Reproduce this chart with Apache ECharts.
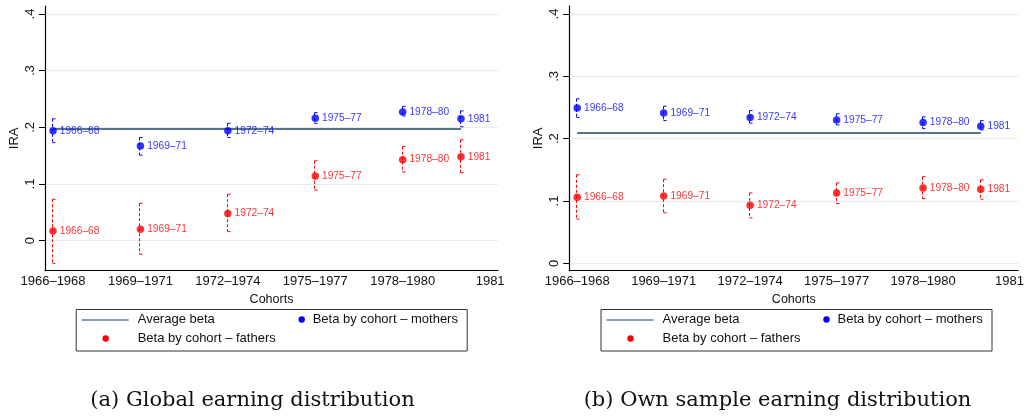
<!DOCTYPE html>
<html>
<head>
<meta charset="utf-8">
<script src="https://cdn.jsdelivr.net/npm/echarts@6/dist/echarts.min.js"></script>
<style>
html,body{margin:0;padding:0;background:#fff;}
#chart{width:1027px;height:416px;}
</style>
</head>
<body>
<div id="chart"></div>
<script>
// ---- data ----
const cohortX = [1967, 1970, 1973, 1976, 1979, 1981];
const pointLabels = ['1966–68', '1969–71', '1972–74', '1975–77', '1978–80', '1981'];
const xTickValues = [1967, 1970, 1973, 1976, 1979, 1982];
const xTickLabels = ['1966–1968', '1969–1971', '1972–1974', '1975–1977', '1978–1980', '1981'];
const yTickValues = [0, 0.1, 0.2, 0.3, 0.4];
const yTickLabels = ['0', '.1', '.2', '.3', '.4'];
const avgLineX = [1967, 1981];

// Panel (a) Global earning distribution
const avgA = 0.197;
const mothersA = [0.194, 0.167, 0.194, 0.216, 0.227, 0.215];
const mothersLoA = [0.173, 0.151, 0.182, 0.207, 0.220, 0.201];
const mothersHiA = [0.215, 0.182, 0.207, 0.226, 0.237, 0.229];
const fathersA = [0.017, 0.020, 0.048, 0.114, 0.143, 0.148];
const fathersLoA = [-0.040, -0.024, 0.016, 0.089, 0.121, 0.120];
const fathersHiA = [0.073, 0.066, 0.082, 0.141, 0.166, 0.178];

// Panel (b) Own sample earning distribution
const avgB = 0.209;
const mothersB = [0.249, 0.241, 0.234, 0.230, 0.226, 0.220];
const mothersLoB = [0.234, 0.229, 0.225, 0.222, 0.216, 0.214];
const mothersHiB = [0.264, 0.252, 0.245, 0.240, 0.235, 0.229];
const fathersB = [0.106, 0.108, 0.093, 0.113, 0.121, 0.119];
const fathersLoB = [0.071, 0.081, 0.073, 0.096, 0.104, 0.103];
const fathersHiB = [0.142, 0.135, 0.113, 0.129, 0.139, 0.134];

const legendLabels = ['Average beta', 'Beta by cohort – mothers', 'Beta by cohort – fathers'];
const captions = ['(a) Global earning distribution', '(b) Own sample earning distribution'];

// ---- styles ----
const BLUE = '#0000ff', RED = '#ff0000', NAVY = '#1a476f';
const SANS = '"Liberation Sans", Arial, sans-serif';

const chart = echarts.init(document.getElementById('chart'), null, {renderer: 'canvas'});

function xAxisDef(idx, min, max) {
  return {
    type: 'value', gridIndex: idx, min: min, max: max,
    name: 'Cohorts', nameLocation: 'middle', nameGap: 22,
    nameTextStyle: {fontFamily: SANS, fontSize: 12.5, color: '#111'},
    axisLine: {show: true, onZero: false, lineStyle: {color: '#000', width: 1.2}},
    axisTick: {show: false, customValues: xTickValues},
    axisLabel: {
      customValues: xTickValues, fontFamily: SANS, fontSize: 13, color: '#111', margin: 4,
      formatter: function (v) { const i = xTickValues.indexOf(Math.round(v)); return i >= 0 ? xTickLabels[i] : ''; }
    },
    splitLine: {show: false}
  };
}
function yAxisDef(idx, min, max) {
  return {
    type: 'value', gridIndex: idx, min: min, max: max,
    name: 'IRA', nameLocation: 'middle', nameGap: 24,
    nameTextStyle: {fontFamily: SANS, fontSize: 13, color: '#111'},
    axisLine: {show: true, lineStyle: {color: '#000', width: 1.2}},
    axisTick: {show: true, length: 6, customValues: yTickValues, lineStyle: {color: '#000'}},
    axisLabel: {
      customValues: yTickValues, rotate: 90, fontFamily: SANS, fontSize: 13, color: '#111', margin: 8,
      formatter: function (v) { const i = yTickValues.findIndex(t => Math.abs(t - v) < 1e-6); return i >= 0 ? yTickLabels[i] : ''; }
    },
    splitLine: {show: true, lineStyle: {color: '#e6eef1', width: 1}}
  };
}

function errSeries(idx, lo, hi, color) {
  return {
    type: 'custom', xAxisIndex: idx, yAxisIndex: idx, z: 3, silent: true,
    data: cohortX.map((x, i) => [x, lo[i], hi[i]]),
    renderItem: function (params, api) {
      const x = api.value(0);
      const top = api.coord([x, api.value(2)]);
      const bot = api.coord([x, api.value(1)]);
      const cx = Math.round(top[0]) - 0.5;
      return {
        type: 'group', children: [
          {type: 'line', shape: {x1: cx, y1: top[1], x2: cx, y2: bot[1]}, style: {stroke: color, lineWidth: 1, lineDash: [3, 2]}},
          {type: 'line', shape: {x1: cx, y1: top[1], x2: cx + 3, y2: top[1]}, style: {stroke: color, lineWidth: 1}},
          {type: 'line', shape: {x1: cx, y1: bot[1], x2: cx + 3, y2: bot[1]}, style: {stroke: color, lineWidth: 1}}
        ]
      };
    }
  };
}
function pointSeries(idx, vals, color, name) {
  return {
    type: 'scatter', name: name, xAxisIndex: idx, yAxisIndex: idx, z: 4,
    symbol: 'circle', symbolSize: 7.5,
    itemStyle: {color: color},
    data: cohortX.map((x, i) => [x, vals[i]]),
    label: {
      show: true, position: 'right', distance: 3,
      fontFamily: SANS, fontSize: 10.2, color: color,
      formatter: function (p) { return pointLabels[p.dataIndex]; }
    }
  };
}
function avgSeries(idx, v) {
  return {
    type: 'line', name: 'Average beta', xAxisIndex: idx, yAxisIndex: idx, z: 2,
    symbol: 'none', lineStyle: {color: NAVY, width: 1.4},
    data: avgLineX.map(x => [x, v])
  };
}

function legendGraphic(x0, y0) {
  return [
    {type: 'rect', left: x0, top: y0, shape: {width: 391, height: 41.5}, style: {fill: '#fff', stroke: '#333', lineWidth: 1}},
    {type: 'line', shape: {x1: x0 + 6, y1: y0 + 11, x2: x0 + 53, y2: y0 + 11}, style: {stroke: '#5f7e9c', lineWidth: 1.5}},
    {type: 'text', left: x0 + 62, top: y0 + 3.5, style: {text: legendLabels[0], font: '13px ' + SANS, fill: '#111'}},
    {type: 'circle', shape: {cx: x0 + 226, cy: y0 + 10.5, r: 3.2}, style: {fill: BLUE}},
    {type: 'text', left: x0 + 237, top: y0 + 3.5, style: {text: legendLabels[1], font: '13px ' + SANS, fill: '#111'}},
    {type: 'circle', shape: {cx: x0 + 30, cy: y0 + 29.5, r: 3.2}, style: {fill: RED}},
    {type: 'text', left: x0 + 62, top: y0 + 22.5, style: {text: legendLabels[2], font: '13px ' + SANS, fill: '#111'}}
  ];
}

const option = {
  animation: false,
  backgroundColor: '#fff',
  grid: [
    {left: 45, top: 6, width: 453, height: 264.7},
    {left: 569.3, top: 6, width: 453.7, height: 264.7}
  ],
  xAxis: [xAxisDef(0, 1966.725, 1982.27), xAxisDef(1, 1966.725, 1982.30)],
  yAxis: [yAxisDef(0, -0.053, 0.4141), yAxisDef(1, -0.0118, 0.4128)],
  series: [
    avgSeries(0, avgA),
    errSeries(0, mothersLoA, mothersHiA, BLUE),
    errSeries(0, fathersLoA, fathersHiA, RED),
    pointSeries(0, mothersA, BLUE, 'Beta by cohort – mothers'),
    pointSeries(0, fathersA, RED, 'Beta by cohort – fathers'),
    avgSeries(1, avgB),
    errSeries(1, mothersLoB, mothersHiB, BLUE),
    errSeries(1, fathersLoB, fathersHiB, RED),
    pointSeries(1, mothersB, BLUE, 'Beta by cohort – mothers'),
    pointSeries(1, fathersB, RED, 'Beta by cohort – fathers')
  ],
  graphic: [].concat(
    legendGraphic(75.7, 309),
    legendGraphic(600.5, 309),
    [
      {type: 'text', x: 252.5, y: 401, style: {text: captions[0], font: '21px "DejaVu Serif", serif', fill: '#111', align: 'center', verticalAlign: 'middle'}},
      {type: 'text', x: 777.5, y: 401, style: {text: captions[1], font: '21px "DejaVu Serif", serif', fill: '#111', align: 'center', verticalAlign: 'middle'}}
    ]
  )
};
chart.setOption(option);
</script>
</body>
</html>
